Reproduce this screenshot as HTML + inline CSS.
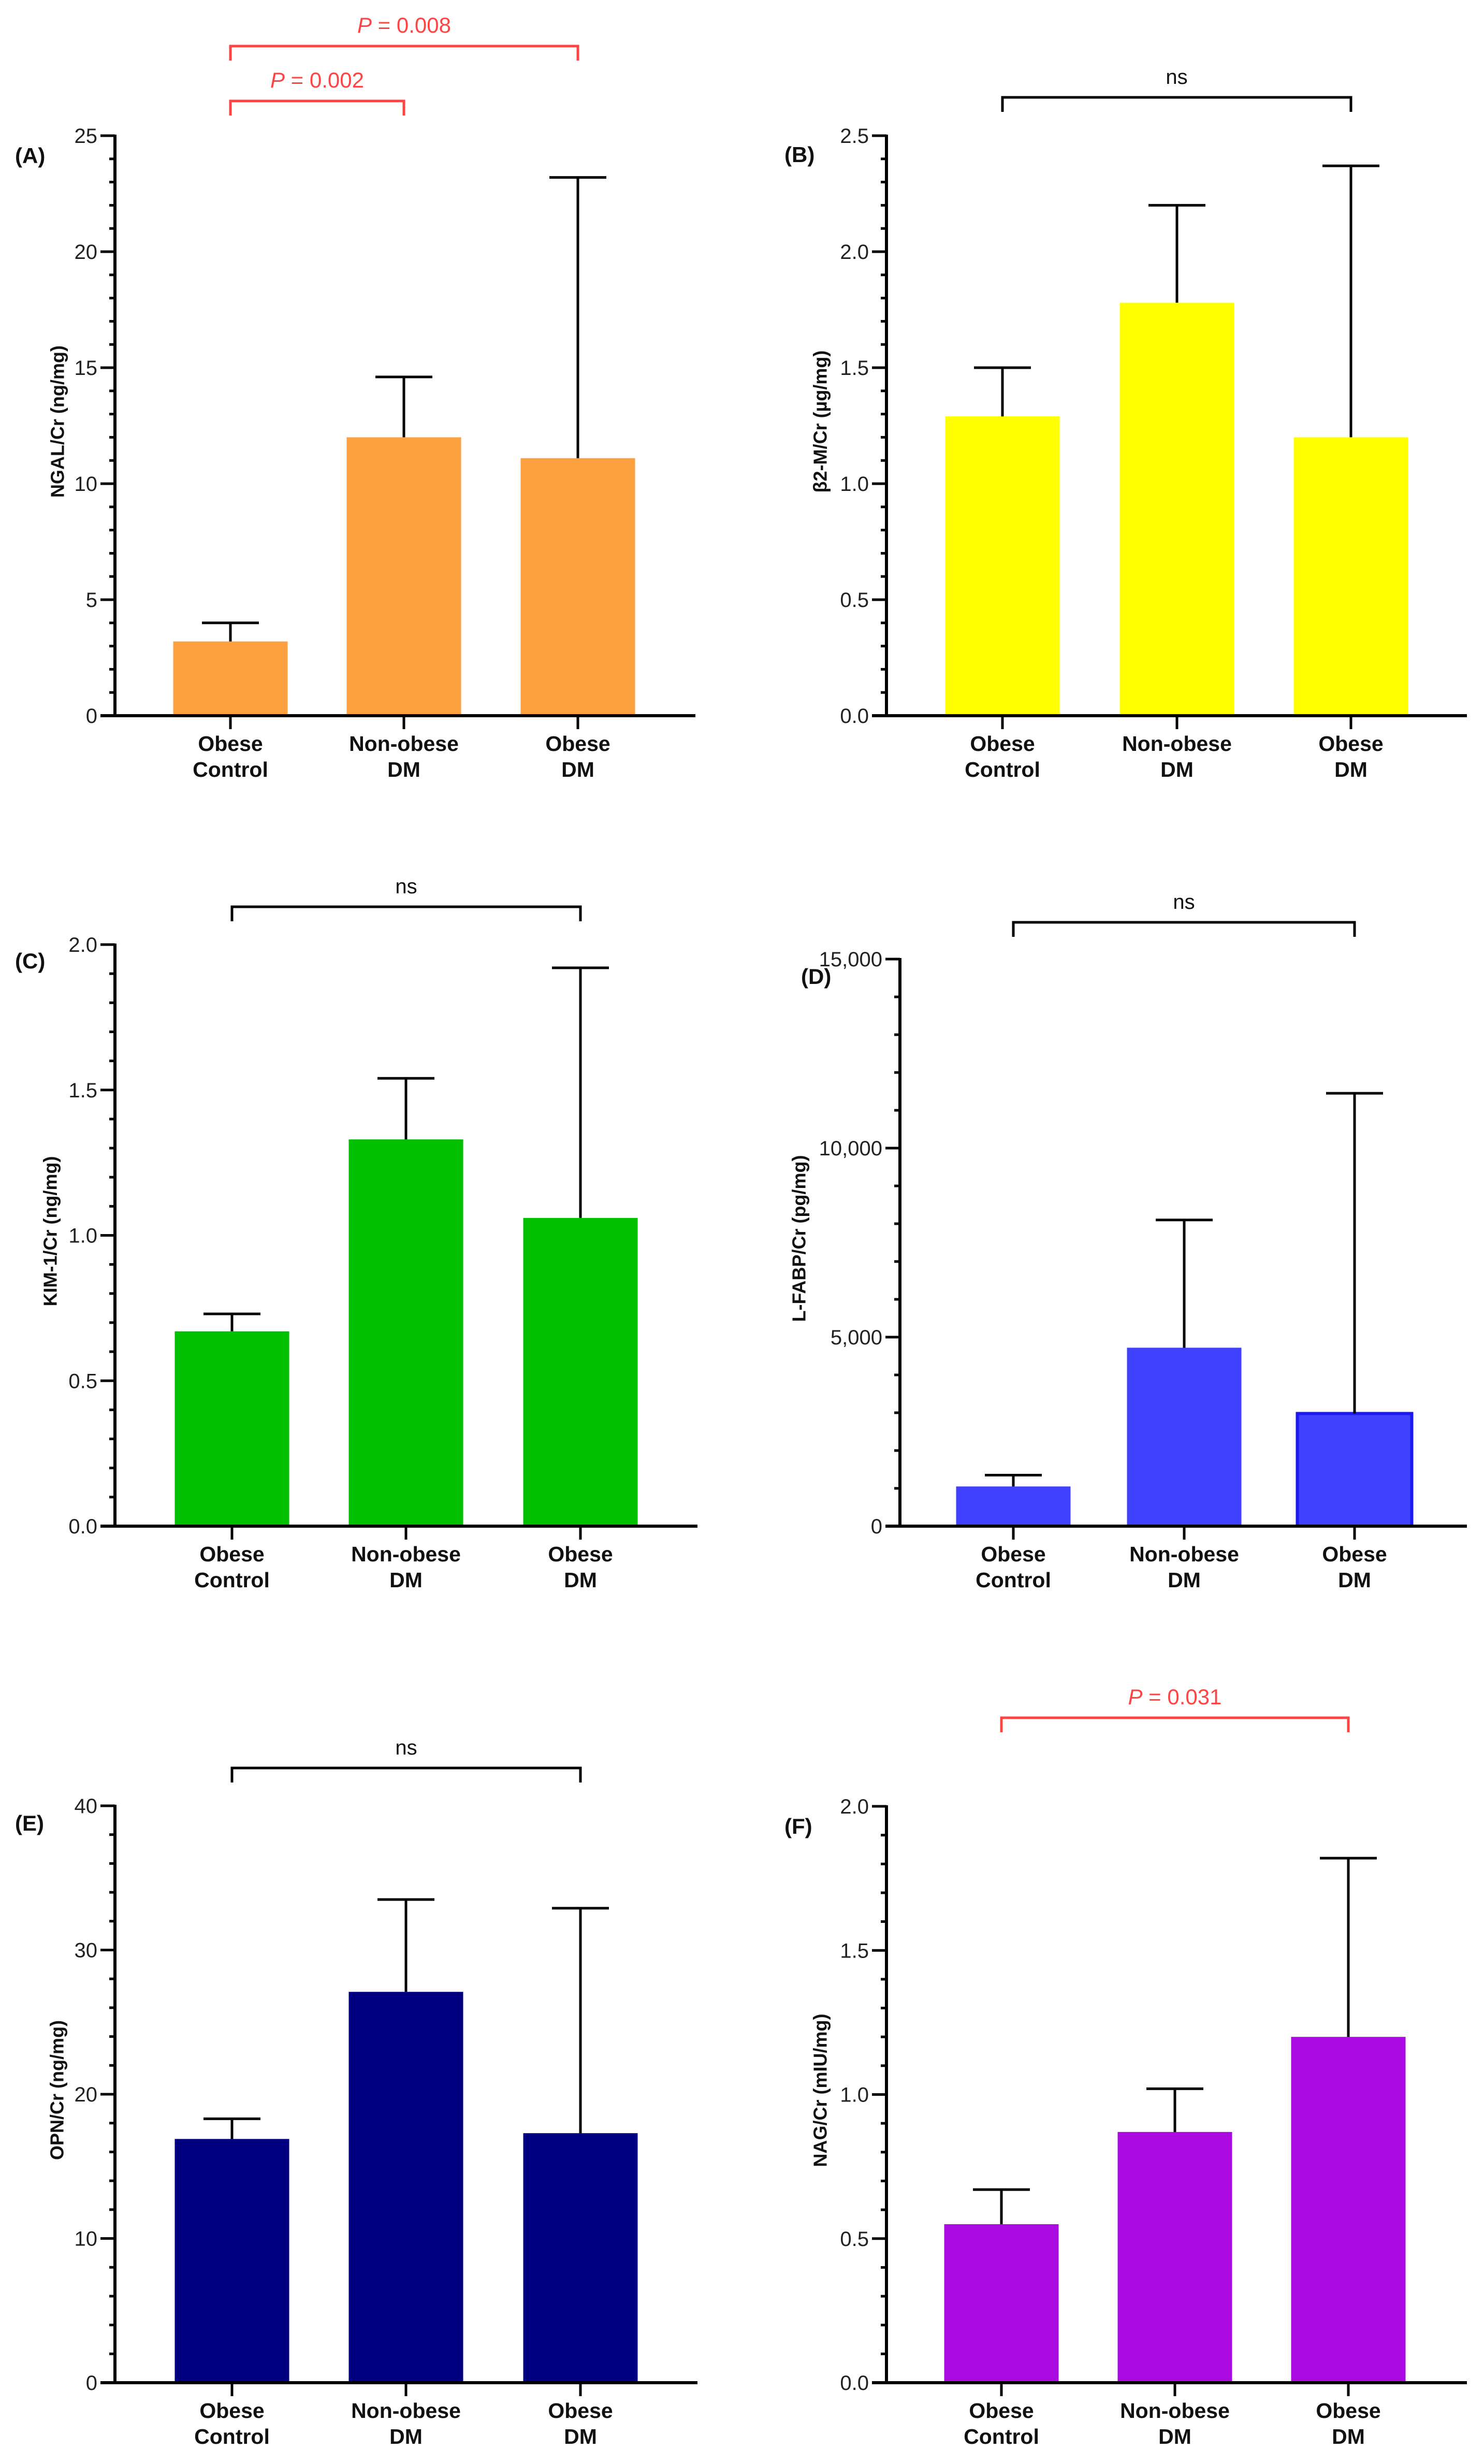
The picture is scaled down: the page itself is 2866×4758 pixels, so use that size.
<!DOCTYPE html>
<html><head><meta charset="utf-8"><style>
html,body{margin:0;padding:0;background:#fff;}
svg{display:block;}
text{font-family:"Liberation Sans",Arial,sans-serif;}
</style></head><body>
<svg id="fig" width="2866" height="4758" viewBox="0 0 2866 4758" xmlns="http://www.w3.org/2000/svg"></svg>
<script>
const categories = [["Obese","Control"],["Non-obese","DM"],["Obese","DM"]];
// Panel data
const meansA = [3.2, 12.0, 11.1];
const errTopA = [4.0, 14.6, 23.2];
const meansB = [1.29, 1.78, 1.20];
const errTopB = [1.50, 2.20, 2.37];
const meansC = [0.67, 1.33, 1.06];
const errTopC = [0.73, 1.54, 1.92];
const meansD = [1050, 4720, 2980];
const errTopD = [1350, 8100, 11450];
const meansE = [16.9, 27.1, 17.3];
const errTopE = [18.3, 33.5, 32.9];
const meansF = [0.55, 0.87, 1.20];
const errTopF = [0.67, 1.02, 1.82];
const ticksA = [0,5,10,15,20,25];
const ticksB = ["0.0","0.5","1.0","1.5","2.0","2.5"];
const ticksC = ["0.0","0.5","1.0","1.5","2.0"];
const ticksD = ["0","5,000","10,000","15,000"];
const ticksE = [0,10,20,30,40];
const ticksF = ["0.0","0.5","1.0","1.5","2.0"];

const panels = [
 {id:"a",label:"(A)",title:"NGAL/Cr (ng/mg)",means:meansA,err:errTopA,ticks:ticksA,max:25,major:5,minor:1,color:"#fca040",
  ax:222,xend:1343,y0:1382,ytop:262,bars:[445,780,1116],lx:29,ly:315,tx:111,
  brackets:[{i:0,j:2,y:89,text:"P = 0.008",red:true},{i:0,j:1,y:195,text:"P = 0.002",red:true}]},
 {id:"b",label:"(B)",title:"β2-M/Cr (µg/mg)",means:meansB,err:errTopB,ticks:ticksB,max:2.5,major:0.5,minor:0.1,color:"#ffff00",
  ax:1712,xend:2833,y0:1382,ytop:262,bars:[1936,2273,2609],lx:1515,ly:313,tx:1584,
  brackets:[{i:0,j:2,y:188,text:"ns",red:false}]},
 {id:"c",label:"(C)",title:"KIM-1/Cr (ng/mg)",means:meansC,err:errTopC,ticks:ticksC,max:2,major:0.5,minor:0.1,color:"#00c000",
  ax:222,xend:1347,y0:2947,ytop:1824,bars:[448,784,1121],lx:29,ly:1870,tx:97,
  brackets:[{i:0,j:2,y:1751,text:"ns",red:false}]},
 {id:"d",label:"(D)",title:"L-FABP/Cr (pg/mg)",means:meansD,err:errTopD,ticks:ticksD,max:15000,major:5000,minor:1000,color:"#4040ff",
  ax:1738,xend:2833,y0:2947,ytop:1852,bars:[1957,2287,2616],lx:1547,ly:1900,tx:1543,outline:2,
  brackets:[{i:0,j:2,y:1781,text:"ns",red:false}]},
 {id:"e",label:"(E)",title:"OPN/Cr (ng/mg)",means:meansE,err:errTopE,ticks:ticksE,max:40,major:10,minor:2,color:"#000080",
  ax:222,xend:1347,y0:4601,ytop:3487,bars:[448,784,1121],lx:29,ly:3535,tx:110,
  brackets:[{i:0,j:2,y:3414,text:"ns",red:false}]},
 {id:"f",label:"(F)",title:"NAG/Cr (mIU/mg)",means:meansF,err:errTopF,ticks:ticksF,max:2,major:0.5,minor:0.1,color:"#aa0ae0",
  ax:1712,xend:2833,y0:4601,ytop:3488,bars:[1934,2269,2604],lx:1515,ly:3541,tx:1584,
  brackets:[{i:0,j:2,y:3317,text:"P = 0.031",red:true}]}
];

const NS = "http://www.w3.org/2000/svg";
const svg = document.getElementById("fig");
function mk(tag, attrs, parent){
  const e = document.createElementNS(NS, tag);
  for (const k in attrs) e.setAttribute(k, attrs[k]);
  (parent||svg).appendChild(e);
  return e;
}
const BW = 221, CAP = 55;

panels.forEach(p => {
  const g = mk("g", {});
  
  
  const yScale = v => p.y0 - (v / p.max) * (p.y0 - p.ytop);

  p.means.forEach((m, i) => {
    const attrs = {x:p.bars[i]-BW/2, y:yScale(m), width:BW, height:p.y0-yScale(m), fill:p.color};
    if (p.outline === i) { attrs.stroke = "#1a1aee"; attrs["stroke-width"] = 6; }
    const r = mk("rect", attrs, g);
    
    
    const eb = mk("path", {d:`M${p.bars[i]} ${yScale(m)} V${yScale(p.err[i])} M${p.bars[i]-CAP} ${yScale(p.err[i])} H${p.bars[i]+CAP}`, stroke:"#000", "stroke-width":5, fill:"none"}, g);
    
    
  });

  const nMinor = Math.round(p.max / p.minor);
  for (let k = 0; k <= nMinor; k++) {
    const v = k * p.minor;
    const isMajor = Math.abs(v/p.major - Math.round(v/p.major)) < 1e-6;
    const y = yScale(v);
    const t = mk("line", {x1:p.ax-(isMajor?28:11), x2:p.ax, y1:y, y2:y, stroke:"#000", "stroke-width":5}, g);
    
    
  }
  p.ticks.forEach((lab, k) => {
    const y = yScale(k * p.major);
    const t = mk("text", {x:p.ax-34, y:y+14, "text-anchor":"end", "font-size":40, fill:"#222"}, g);
    t.textContent = lab;
    
    
  });
  const ya = mk("line", {x1:p.ax, x2:p.ax, y1:p.ytop-2, y2:p.y0+2, stroke:"#000", "stroke-width":6}, g);
  
  
  const xa = mk("line", {x1:p.ax-28, x2:p.xend, y1:p.y0, y2:p.y0, stroke:"#000", "stroke-width":6}, g);
  
  
  categories.forEach((c, i) => {
    const t = mk("line", {x1:p.bars[i], x2:p.bars[i], y1:p.y0, y2:p.y0+26, stroke:"#000", "stroke-width":5}, g);
    
    
    const tx = mk("text", {x:p.bars[i], y:p.y0+68, "text-anchor":"middle", "font-size":41, "font-weight":"bold", fill:"#111"}, g);
    
    
    const s1 = mk("tspan", {x:p.bars[i], dy:0}, tx); s1.textContent = c[0];
    const s2 = mk("tspan", {x:p.bars[i], dy:50}, tx); s2.textContent = c[1];
  });
  const my = (p.y0 + p.ytop)/2 - 8;
  const yt = mk("text", {x:p.tx, y:my, transform:`rotate(-90 ${p.tx} ${my})`, "text-anchor":"middle", "dominant-baseline":"central", "font-size":36, "font-weight":"bold", fill:"#111"}, g);
  yt.textContent = p.title;
  
  
  const pl = mk("text", {x:p.lx, y:p.ly, "font-size":42, "font-weight":"bold", fill:"#111"}, g);
  pl.textContent = p.label;
  
  
  p.brackets.forEach(b => {
    const col = b.red ? "#f44" : "#000";
    const x1 = p.bars[b.i], x2 = p.bars[b.j];
    const br = mk("path", {d:`M${x1} ${b.y+28} V${b.y} H${x2} V${b.y+28}`, stroke:col, "stroke-width":5, fill:"none"}, g);
    
    
    const t = mk("text", {x:(x1+x2)/2, y:b.y-26, "text-anchor":"middle", "font-size":b.red?42:40, fill:b.red?"#f44":"#111"}, g);
    
    
    if (b.red) {
      const s1 = mk("tspan", {"font-style":"italic"}, t); s1.textContent = "P";
      const s2 = mk("tspan", {}, t); s2.textContent = b.text.slice(1);
    } else t.textContent = b.text;
  });
});
</script>
</body></html>
